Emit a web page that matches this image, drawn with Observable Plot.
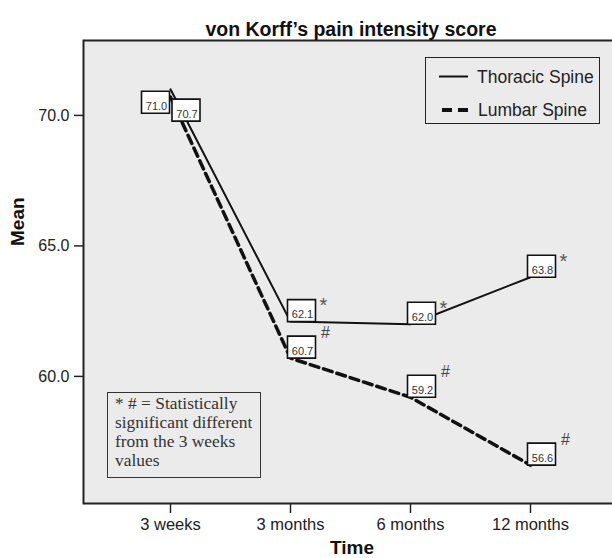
<!DOCTYPE html>
<html>
<head>
<meta charset="utf-8">
<script src="https://cdn.jsdelivr.net/npm/d3@7"></script>
<script src="https://cdn.jsdelivr.net/npm/@observablehq/plot@0.6"></script>
<style>
  html, body { margin: 0; padding: 0; background: #fff; overflow: hidden; }
  #wrap { position: relative; width: 612px; height: 558px; overflow: hidden; font-family: "Liberation Sans", Arial, sans-serif; }
  #wrap svg.plot { position: absolute; left: 0; top: 0; max-width: none !important; }
  #legend { position: absolute; left: 425px; top: 57px; width: 175px; height: 67px; box-sizing: border-box; border: 1px solid #222; }
  #note { position: absolute; left: 107px; top: 392px; width: 154px; height: 86px; box-sizing: border-box; border: 1px solid #333;
          font-family: "Liberation Serif", "Times New Roman", serif; font-size: 17.4px; line-height: 19px; color: #333; padding: 1px 0 0 7px; }
</style>
</head>
<body>
<div id="wrap"></div>
<script>
// ---- data ----
const times = ["3 weeks", "3 months", "6 months", "12 months"];
const thoracic = [71.0, 62.1, 62.0, 63.8];
const lumbar = [70.7, 60.7, 59.2, 56.6];
const thoracicSig = ["", "*", "*", "*"];
const lumbarSig = ["", "#", "#", "#"];
const seriesNames = ["Thoracic Spine", "Lumbar Spine"];
const yTicks = [60, 65, 70];
const titleText = "von Korff\u2019s pain intensity score";
const xLabel = "Time";
const yLabel = "Mean";
const noteLines = ["* # = Statistically", "significant different", "from the 3 weeks", "values"];

// ---- rows built from the arrays ----
const rows = [];
times.forEach((t, i) => rows.push({series: seriesNames[0], time: t, i, value: thoracic[i], sig: thoracicSig[i]}));
times.forEach((t, i) => rows.push({series: seriesNames[1], time: t, i, value: lumbar[i], sig: lumbarSig[i]}));
const thor = rows.filter(d => d.series === seriesNames[0]);
const lumb = rows.filter(d => d.series === seriesNames[1]);

// label box placement groups (layout only)
const isT0 = d => d.series === seriesNames[0] && d.i === 0;
const isL0 = d => d.series === seriesNames[1] && d.i === 0;
const isDef = d => d.i !== 0;

const boxSymbol = { draw(ctx) { ctx.moveTo(-14, -11); ctx.lineTo(14, -11); ctx.lineTo(14, 11); ctx.lineTo(-14, 11); ctx.closePath(); } };

function boxMarks(filter, dx, dy) {
  return [
    Plot.dot(rows, {filter, x: "time", y: "value", symbol: boxSymbol, r: 3, fill: "white", stroke: "#111", strokeWidth: 1.6, dx, dy}),
    Plot.text(rows, {filter, x: "time", y: "value", text: d => d.value.toFixed(1), dx: dx + 1, dy: dy + 4, fontSize: 11, fill: "#333"})
  ];
}

// frame outline without its right side (the reference's right edge is cut off)
function openFrame(index, scales, values, dims, context, next) {
  const g = next(index, scales, values, dims, context);
  const w = dims.width - dims.marginLeft - dims.marginRight;
  const h = dims.height - dims.marginTop - dims.marginBottom;
  g.querySelectorAll("rect").forEach(r => r.setAttribute("stroke-dasharray", `${w} ${h} ${w + h + 10}`));
  return g;
}

const plot = Plot.plot({
  width: 630,
  height: 558,
  marginLeft: 83,
  marginRight: 0,
  marginTop: 40,
  marginBottom: 55,
  style: { fontFamily: "'Liberation Sans', Arial, sans-serif", color: "#222", background: "transparent", maxWidth: "none" },
  x: { type: "point", domain: times, range: [170, 530], padding: 0 },
  y: { domain: [55.13, 72.87] },
  marks: [
    Plot.frame({ fill: "#ebebeb" }),
    Plot.axisY({ ticks: yTicks, tickFormat: d => d.toFixed(1), tickSize: 9, tickPadding: 5, fontSize: 16, strokeWidth: 1.5, label: null }),
    Plot.axisX({ tickSize: 10, tickPadding: 5, fontSize: 16.5, strokeWidth: 1.5, label: null }),
    Plot.line(lumb, { x: "time", y: "value", stroke: "#111", strokeWidth: 3.5, strokeDasharray: "9,5" }),
    Plot.line(thor, { x: "time", y: "value", stroke: "#111", strokeWidth: 2 }),
    ...boxMarks(isDef, 11, -11),
    ...boxMarks(isT0, -15, 13),
    ...boxMarks(isL0, 15.5, 13),
    Plot.text(rows, { filter: d => d.sig === "*", x: "time", y: "value", text: "sig", dx: 33, dy: -16, fontSize: 20, fill: "#555" }),
    Plot.text(rows, { filter: d => d.sig === "#", x: "time", y: "value", text: "sig", dx: 35, dy: -25, fontSize: 16, fill: "#444" }),
    Plot.frame({ stroke: "#222", strokeWidth: 2, render: openFrame }),
    Plot.text([titleText], { text: d => d, frameAnchor: "top", dx: -6, dy: -11, lineAnchor: "middle", fontSize: 19.5, fontWeight: "bold", fill: "#111" }),
    Plot.text([xLabel], { text: d => d, frameAnchor: "bottom", dx: -5, dy: 44, lineAnchor: "middle", fontSize: 19, fontWeight: "bold", fill: "#111" }),
    Plot.text([yLabel], { text: d => d, frameAnchor: "left", dx: -66, dy: -26, rotate: -90, lineAnchor: "middle", fontSize: 19, fontWeight: "bold", fill: "#111" })
  ]
});

const wrap = document.getElementById("wrap");
wrap.appendChild(plot);

// legend
const legend = document.createElement("div");
legend.id = "legend";
legend.innerHTML = `<svg width="173" height="65" style="position:absolute;left:0;top:0">
  <line x1="13" x2="42" y1="18.5" y2="18.5" stroke="#111" stroke-width="2"/>
  <text x="51" y="18.5" dy="0.35em" font-size="17.5" fill="#222" font-family="Liberation Sans, Arial, sans-serif">${seriesNames[0]}</text>
  <line x1="16" x2="42" y1="52" y2="52" stroke="#111" stroke-width="4" stroke-dasharray="10,6"/>
  <text x="52" y="52" dy="0.35em" font-size="17.5" fill="#222" font-family="Liberation Sans, Arial, sans-serif">${seriesNames[1]}</text>
</svg>`;
wrap.appendChild(legend);

// footnote
const note = document.createElement("div");
note.id = "note";
note.innerHTML = noteLines.join("<br>");
wrap.appendChild(note);
</script>
</body>
</html>
